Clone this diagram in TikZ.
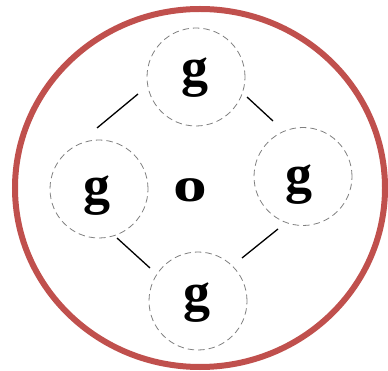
\documentclass[tikz,border=0pt]{standalone}
\usepackage{fontspec}
\setmainfont{Liberation Serif}
\definecolor{ringred}{RGB}{192,80,77}
\begin{document}
\begin{tikzpicture}[x=1pt,y=-1pt,
  dashcirc/.style={circle,draw=gray,dash pattern=on 6.5pt off 4pt,line width=0.8pt,minimum size=98pt,inner sep=0pt},
  letter/.style={font=\bfseries\fontsize{54}{54}\selectfont,inner sep=0pt},
  link/.style={line width=1.3pt,black}]
\useasboundingbox (0,0) rectangle (388,371);
\draw[ringred,line width=6pt] (200,188) ellipse [x radius=185pt,y radius=179pt];
\node[dashcirc] (top) at (196,77) {};
\node[dashcirc] (left) at (99,189) {};
\node[dashcirc] (right) at (303,176.5) {};
\node[dashcirc] (bottom) at (198,301) {};
\node[letter] (gt) at (195,78) {g};
\node[letter] (gl) at (97,196) {g};
\node[letter] (gr) at (299,185) {g};
\node[letter] (gb) at (197,303) {g};
\node[letter] (o) at (190,190) {\scalebox{1.25}[0.9]{o}};
\coordinate (a1) at (138,94);
\coordinate (a2) at (97,128);
\coordinate (b1) at (247,97);
\coordinate (b2) at (273,121);
\coordinate (c1) at (117,238);
\coordinate (c2) at (150,268);
\coordinate (d1) at (278,229);
\coordinate (d2) at (242,258);
\draw[link] (a1) -- (a2);
\draw[link] (b1) -- (b2);
\draw[link] (c1) -- (c2);
\draw[link] (d1) -- (d2);
\end{tikzpicture}
\end{document}
